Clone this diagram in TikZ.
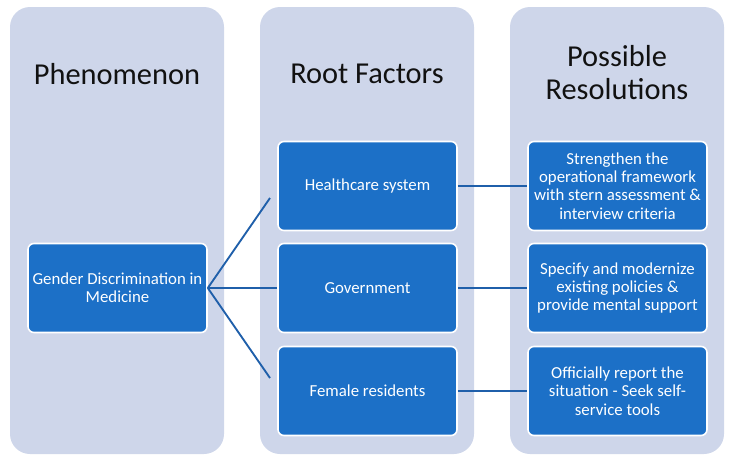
\documentclass[tikz,border=0pt]{standalone}
\usepackage{fontspec}
\setmainfont{Carlito}
\definecolor{colbg}{HTML}{CED6EA}
\definecolor{boxfill}{HTML}{1C70C7}
\definecolor{linkc}{HTML}{1F5FAA}
\definecolor{titlec}{HTML}{111111}
\begin{document}
\begin{tikzpicture}[x=0.75pt,y=-0.75pt,
  colbox/.style={fill=colbg, draw=none, rounded corners=15pt, minimum width=160.5pt, minimum height=335.25pt, inner sep=0pt},
  coltitle/.style={text=titlec, align=center, font=\fontsize{22.8}{24.75}\selectfont},
  itembox/.style={fill=boxfill, draw=white, line width=1.2pt, rounded corners=4.5pt, minimum width=134.25pt, minimum height=66.75pt, inner sep=2pt, text=white, align=center, font=\fontsize{12.6}{13.7}\selectfont},
  link/.style={draw=linkc, line width=1.4pt}]
\useasboundingbox (0,0) rectangle (731,462);
\node[colbox] (col1) at (117,230.5) {};
\node[colbox] (col2) at (367,230.5) {};
\node[colbox] (col3) at (617,230.5) {};
\node[coltitle] (t1) at (117,74) {Phenomenon};
\node[coltitle] (t2) at (367,74) {Root Factors};
\node[coltitle] (t3) at (617,73) {Possible\\Resolutions};
\node[itembox] (gender) at (117.5,288) {Gender Discrimination in\\Medicine};
\node[itembox] (hs) at (367.5,186) {Healthcare system};
\node[itembox] (gov) at (367.5,288) {Government};
\node[itembox] (fem) at (367.5,391) {Female residents};
\node[itembox] (r1) at (617.5,186) {Strengthen the\\operational framework\\with stern assessment \&\\interview criteria};
\node[itembox] (r2) at (617.5,288) {Specify and modernize\\existing policies \&\\provide mental support};
\node[itembox] (r3) at (617.5,391) {Officially report the\\situation - Seek self-\\service tools};
\coordinate (f1) at (270,198);
\coordinate (f3) at (270,378);
\draw[link] (gender.east) -- (f1);
\draw[link] (gender.east) -- (gov.west);
\draw[link] (gender.east) -- (f3);
\draw[link] (hs.east) -- (r1.west);
\draw[link] (gov.east) -- (r2.west);
\draw[link] (fem.east) -- (r3.west);
\end{tikzpicture}
\end{document}
